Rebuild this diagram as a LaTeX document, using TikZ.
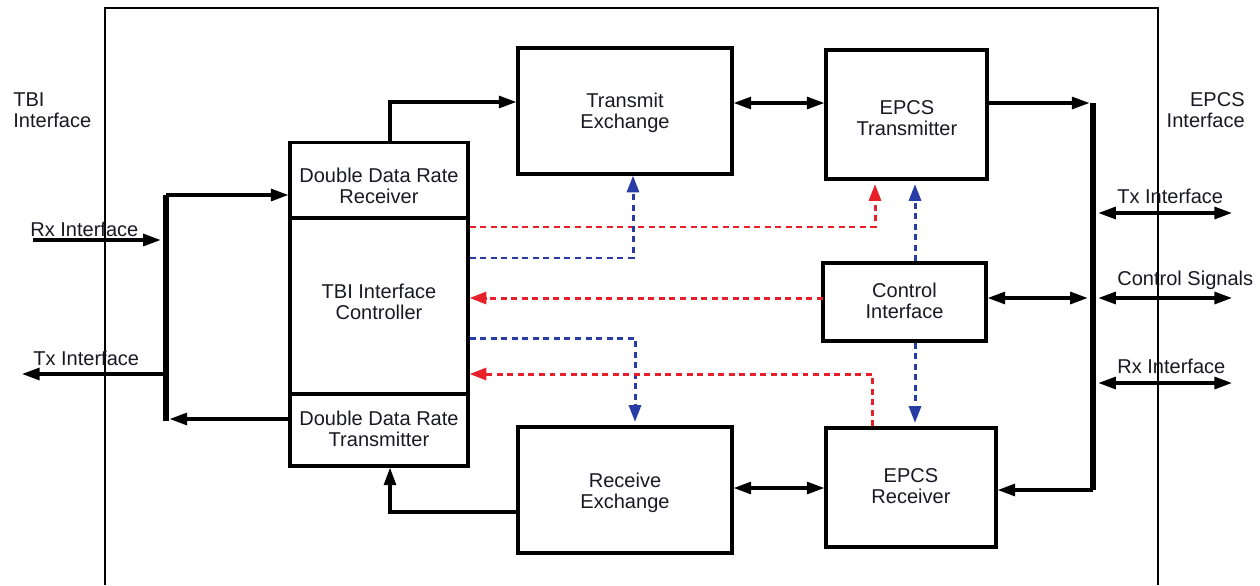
\documentclass[tikz,border=0pt]{standalone}
\usepackage{fontspec}
\setmainfont{Liberation Sans}
\usetikzlibrary{arrows.meta,calc}
\definecolor{dred}{RGB}{232,32,42}
\definecolor{dblue}{RGB}{40,60,165}
\definecolor{txt}{RGB}{25,25,35}
\tikzset{
  blk/.style={draw=black,line width=1.8pt,rectangle,inner sep=0pt},
  lbl/.style={inner sep=0pt,text=txt,font=\fontsize{11.4}{12}\selectfont},
  conn/.style={line width=1.8pt,draw=black,arrows={-Triangle[length=10pt,width=6.8pt]}},
  dconn/.style={line width=1.8pt,draw=black,arrows={Triangle[length=10pt,width=6.8pt]-Triangle[length=10pt,width=6.8pt]}},
  bus/.style={line width=3pt,draw=black},
  rdash/.style={line width=1.7pt,draw=dred,dash pattern=on 3.4pt off 2.6pt,arrows={-Triangle[length=9.5pt,width=6.8pt]}},
  bdash/.style={line width=1.7pt,draw=dblue,dash pattern=on 3.4pt off 2.6pt,arrows={-Triangle[length=9.5pt,width=6.8pt]}},
}
\begin{document}
\begin{tikzpicture}[x=0.02cm,y=-0.02cm]
\useasboundingbox (0,0) rectangle (1260,585);
% outer frame
\draw[line width=1.1pt] (105,585) -- (105,8) -- (1158,8) -- (1158,585);
% blocks
\node[blk,minimum width=4.28cm,minimum height=2.52cm] (txx) at (625,111) {};
\node[blk,minimum width=3.22cm,minimum height=2.58cm] (etx) at (906.5,114.5) {};
\node[blk,minimum width=3.56cm,minimum height=1.50cm] (ddrrx) at (379,180) {};
\node[blk,minimum width=3.56cm,minimum height=3.52cm] (ctrl) at (379,306) {};
\node[blk,minimum width=3.56cm,minimum height=1.44cm] (ddrtx) at (379,430) {};
\node[blk,minimum width=3.26cm,minimum height=1.56cm] (ctl) at (904.5,302) {};
\node[blk,minimum width=4.28cm,minimum height=2.52cm] (rxx) at (625,490) {};
\node[blk,minimum width=3.40cm,minimum height=2.38cm] (erx) at (911,487.5) {};
% block texts
\node[lbl,align=center] (txxt) at (625,113) {Transmit\\Exchange};
\node[lbl,align=center] (etxt) at (907,118.5) {EPCS\\Transmitter};
\node[lbl,align=center] (ddrrxt) at (379,185.5) {Double Data Rate\\Receiver};
\node[lbl,align=center] (ctrlt) at (379,301.5) {TBI Interface\\Controller};
\node[lbl,align=center] (ddrtxt) at (379,428.5) {Double Data Rate\\Transmitter};
\node[lbl,align=center] (ctlt) at (904.5,301) {Control\\Interface};
\node[lbl,align=center] (rxxt) at (625,492.5) {Receive\\Exchange};
\node[lbl,align=center] (erxt) at (911,486) {EPCS\\Receiver};
% side labels
\node[lbl,align=left,anchor=west] (tbil) at (13,110) {TBI\\Interface};
\node[lbl,align=right,anchor=east] (epcsl) at (1245,110) {EPCS\\Interface};
\node[lbl,anchor=west] (rxl) at (30,229) {Rx Interface};
\node[lbl,anchor=west] (txl) at (33,358) {Tx Interface};
\node[lbl,anchor=west] (rtxl) at (1117,196) {Tx Interface};
\node[lbl,anchor=west] (rcsl) at (1117,280) {Control Signals};
\node[lbl,anchor=west] (rrxl) at (1117,366) {Rx Interface};
% left bus
\coordinate (lbt) at (166,195);
\coordinate (lbb) at (166,421);
\draw[bus] (lbt) -- (lbb);
\draw[conn] (lbt) -- (lbt -| ddrrx.west);
\coordinate (rxin) at (33,240);
\draw[conn,shorten >=3pt] (rxin) -- (rxin -| lbt);
\coordinate (txout) at (22,374);
\draw[conn] (txout -| lbt) -- (txout);
\coordinate (lbl2) at (166,419);
\draw[conn,shorten >=2pt] (lbl2 -| ddrtx.west) -- (lbl2);
% top path
\coordinate (tb) at (390,102);
\draw[conn] (tb |- ddrrx.north) -- (tb) -- (tb -| txx.west);
\coordinate (rb) at (390,512);
\draw[conn] (rb -| rxx.west) -- (rb) -- (rb |- ddrtx.south);
% right bus
\coordinate (rbt) at (1093,103);
\coordinate (rbb) at (1093,490);
\draw[bus] (rbt) -- (rbb);
\draw[dconn] (txx.east |- rbt) -- (etx.west |- rbt);
\draw[conn,shorten >=2pt] (etx.east |- rbt) -- (rbt);
\draw[conn] (rbb) -- (rbb -| erx.east);
\coordinate (rbm) at (1093,298);
\draw[dconn,shorten >=3pt] (rbm -| ctl.east) -- (rbm);
\coordinate (rxm) at (733,488);
\draw[dconn] (rxm -| rxx.east) -- (rxm -| erx.west);
\coordinate (ro1) at (1232,213);
\coordinate (ro2) at (1232,298);
\coordinate (ro3) at (1232,383);
\draw[dconn,shorten <=3pt] (ro1 -| rbt) -- (ro1);
\draw[dconn,shorten <=3pt] (ro2 -| rbt) -- (ro2);
\draw[dconn,shorten <=3pt] (ro3 -| rbt) -- (ro3);
% dashed control lines
\coordinate (r1) at (875,227);
\draw[rdash,shorten >=2pt] (r1 -| ctrl.east) -- (r1) -- (r1 |- etx.south);
\coordinate (b1) at (633,258);
\draw[bdash] (b1 -| ctrl.east) -- (b1) -- (b1 |- txx.south);
\coordinate (r2) at (823,298);
\draw[rdash] (r2) -- (r2 -| ctrl.east);
\coordinate (b2) at (635,338);
\draw[bdash,shorten >=2pt] (b2 -| ctrl.east) -- (b2) -- (b2 |- rxx.north);
\coordinate (r3) at (872,374);
\draw[rdash] (r3 |- erx.north) -- (r3) -- (r3 -| ctrl.east);
\coordinate (b3) at (915,300);
\draw[bdash,shorten >=2pt] (b3 |- ctl.north) -- (b3 |- etx.south);
\draw[bdash,shorten >=2pt] (b3 |- ctl.south) -- (b3 |- erx.north);
\end{tikzpicture}
\end{document}
